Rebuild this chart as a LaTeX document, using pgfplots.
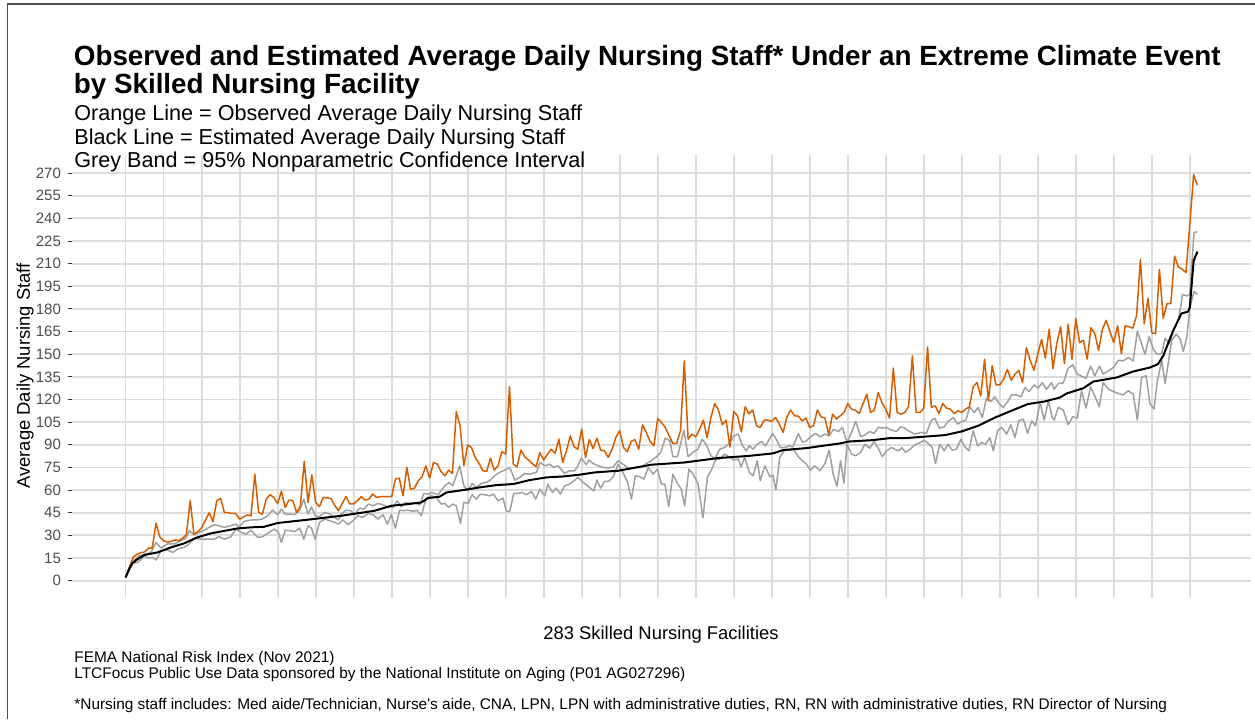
\documentclass[border=0pt]{standalone}
\usepackage{fontspec}
\setmainfont{Liberation Sans}
\usepackage{pgfplots}
\pgfplotsset{compat=1.18}
\usepackage{pgfplotstable}
\definecolor{obs}{HTML}{D55E00}
\definecolor{ci}{HTML}{A0A0A0}
\definecolor{gridc}{HTML}{DCDCDC}
\definecolor{tickc}{HTML}{4D4D4D}

\pgfplotstableread[row sep=\\]{
x y\\
1 2\\ 2 9\\ 3 15.5\\ 4 17.5\\ 5 18.5\\ 6 19\\ 7 21.5\\ 8 21.5\\ 9 38\\ 10 29\\
11 26.5\\ 12 25.5\\ 13 26\\ 14 27\\ 15 26.5\\ 16 28\\ 17 30.5\\ 18 53\\ 19 30.5\\ 20 32.5\\
21 35\\ 22 40\\ 23 45\\ 24 39\\ 25 53\\ 26 54.5\\ 27 45\\ 28 45\\ 29 44.5\\ 30 44.5\\
31 40.7\\ 32 42.2\\ 33 43.5\\ 34 43\\ 35 70.6\\ 36 45.3\\ 37 44\\ 38 54\\ 39 57\\ 40 55\\
41 51\\ 42 59.2\\ 43 48.5\\ 44 53.4\\ 45 53\\ 46 45.2\\ 47 49.6\\ 48 79\\ 49 51.9\\ 50 70.1\\
51 51.9\\ 52 49\\ 53 55.2\\ 54 54.8\\ 55 54.5\\ 56 50\\ 57 46.3\\ 58 51.2\\ 59 55.6\\ 60 50.8\\
61 50.8\\ 62 53\\ 63 55.6\\ 64 53.4\\ 65 54\\ 66 57.3\\ 67 55.2\\ 68 55.6\\ 69 55.6\\ 70 55.6\\
71 55.6\\ 72 67.3\\ 73 67.9\\ 74 56.3\\ 75 75\\ 76 60.6\\ 77 61.3\\ 78 66.2\\ 79 68.8\\ 80 76\\
81 68\\ 82 78.3\\ 83 77.2\\ 84 72.3\\ 85 69.5\\ 86 73.2\\ 87 71\\ 88 112\\ 89 102.6\\ 90 76.1\\
91 89.9\\ 92 88.2\\ 93 81.6\\ 94 77.6\\ 95 72.8\\ 96 72.3\\ 97 81.2\\ 98 73.2\\ 99 76.1\\ 100 85.5\\
101 83.8\\ 102 128.4\\ 103 77.2\\ 104 75.4\\ 105 86.5\\ 106 82.1\\ 107 79.9\\ 108 77.6\\ 109 75.4\\ 110 84.9\\
111 79.9\\ 112 83.8\\ 113 87.1\\ 114 84.3\\ 115 93.7\\ 116 78.3\\ 117 86\\ 118 95.9\\ 119 88.6\\ 120 87.1\\
121 100.4\\ 122 81.6\\ 123 93.5\\ 124 87.5\\ 125 94.4\\ 126 86.5\\ 127 86\\ 128 81.6\\ 129 87.1\\ 130 95\\
131 99.3\\ 132 88.2\\ 133 85.5\\ 134 92.2\\ 135 93.5\\ 136 87.1\\ 137 103.2\\ 138 98.2\\ 139 92.2\\ 140 89.3\\
141 107.4\\ 142 104.8\\ 143 101.5\\ 144 96\\ 145 90.9\\ 146 90.9\\ 147 99.3\\ 148 145.6\\ 149 93.7\\ 150 97.1\\
151 95.3\\ 152 100\\ 153 106.3\\ 154 94.8\\ 155 108.1\\ 156 117.3\\ 157 112.9\\ 158 103.2\\ 159 106.3\\ 160 88.6\\
161 112.1\\ 162 109.2\\ 163 98.5\\ 164 115.2\\ 165 110.5\\ 166 113\\ 167 102.6\\ 168 101.5\\ 169 106.3\\ 170 106.3\\
171 105.5\\ 172 108.1\\ 173 103.7\\ 174 98.2\\ 175 108.5\\ 176 113\\ 177 109.2\\ 178 109\\ 179 105.9\\ 180 107.7\\
181 101.5\\ 182 102.6\\ 183 113\\ 184 108.5\\ 185 107.7\\ 186 96.6\\ 187 110.3\\ 188 107\\ 189 109.2\\ 190 111.4\\
191 117.3\\ 192 113.6\\ 193 113\\ 194 110.7\\ 195 117\\ 196 123.5\\ 197 111.4\\ 198 113\\ 199 124.6\\ 200 117.9\\
201 113.6\\ 202 107.7\\ 203 140.8\\ 204 111.4\\ 205 110.3\\ 206 111.4\\ 207 115.2\\ 208 148.9\\ 209 111.4\\ 210 111.4\\
211 114.3\\ 212 154.8\\ 213 114.7\\ 214 115.8\\ 215 110.7\\ 216 117.4\\ 217 114.3\\ 218 113.6\\ 219 110.7\\ 220 112.5\\
221 111.4\\ 222 113.6\\ 223 115.2\\ 224 128.4\\ 225 131.3\\ 226 122.4\\ 227 146.6\\ 228 119.1\\ 229 142.5\\ 230 129.7\\
231 129.7\\ 232 133.4\\ 233 140\\ 234 132.8\\ 235 136.8\\ 236 139.4\\ 237 131.3\\ 238 154.4\\ 239 146\\ 240 139.4\\
241 150\\ 242 159.9\\ 243 147.4\\ 244 166.6\\ 245 140.5\\ 246 157\\ 247 168.2\\ 248 143.8\\ 249 169.9\\ 250 146.7\\
251 173.6\\ 252 157.7\\ 253 159.3\\ 254 146.7\\ 255 167.6\\ 256 163.6\\ 257 152.6\\ 258 166.6\\ 259 172.5\\ 260 165\\
261 157.7\\ 262 168.8\\ 263 150.4\\ 264 168.8\\ 265 168.2\\ 266 167.3\\ 267 175.5\\ 268 212.9\\ 269 170.3\\ 270 187\\
271 164.3\\ 272 163.6\\ 273 206.3\\ 274 173.8\\ 275 183.5\\ 276 183.5\\ 277 215\\ 278 207.7\\ 279 206.3\\ 280 204.1\\
281 236\\ 282 269\\ 283 262\\
}\obstable

\begin{document}
\begin{tikzpicture}[x=0.5pt,y=0.5pt]
\useasboundingbox (0,0) rectangle (1255,719);
\fill[white] (0,0) rectangle (1255,719);
\draw[color=black!70, line width=0.8pt] (7.5,0) -- (7.5,715) -- (1255,715);
\begin{axis}[
  at={(36pt,60.5pt)}, anchor=south west,
  scale only axis, width=589.5pt, height=221.5pt,
  xmin=-13.1, xmax=297.1, ymin=-11.5, ymax=282,
  xtick={1,11,21,31,41,51,61,71,81,91,101,111,121,131,141,151,161,171,181,191,201,211,221,231,241,251,261,271,281},
  xticklabels={},
  ytick={0,15,30,45,60,75,90,105,120,135,150,165,180,195,210,225,240,255,270},
  tick pos=left,
  grid=major, major grid style={draw=gridc, line width=0.9pt},
  axis line style={draw=none},
  tick align=outside, major tick length=2pt,
  xtick style={draw=none},
  ytick style={draw=black!80, line width=0.5pt},
  yticklabel style={font=\fontsize{7.5pt}{9pt}\selectfont, text=tickc},
  /pgf/number format/assume math mode=true,
  no markers,
  every axis plot/.append style={line join=round},
]
\addplot[ci, line width=0.75pt] coordinates {
(1,2)(2.8,12.8)(4.6,16.5)(5.9,17.2)(7.7,18.7)(9,25.3)(10.3,21.6)(12,24.3)(13.8,24.3)(15.6,26.5)(16.9,28.2)(17.8,33.1)(18.9,30.4)(20.4,32)(21.7,33.5)(23,35.3)(24.3,37)(25.6,36.4)(27,35.3)(28.7,36.4)(30,37.5)(30.9,35.5)(32.2,39.3)(34,40.2)(35.7,40.2)(37,40.9)(38.4,43)(39.7,46.8)(41,43.7)(42,47.4)(43,44.1)(44.1,44.1)(45.5,43.7)(46.8,46.7)(47.9,54)(49,44.1)(49.9,48.9)(50.9,43)(52,42.4)(53.4,45.2)(54.7,44.1)(56,41.9)(57,40.2)(57.7,44.1)(59,46.7)(60.2,46.3)(61.3,44.1)(62.6,48)(63.7,47.4)(64.9,50.7)(66.1,49.6)(67.4,51.2)(68.7,50.2)(70,48.9)(71.3,48.5)(72.5,52.9)(73.5,48.9)(74.6,51.7)(75.7,51.2)(77,51.7)(78.4,50.2)(79.5,57.8)(80.6,57.3)(81.6,58.4)(83.2,56.9)(85,62.9)(86.1,65)(87.1,62.9)(88.9,76.1)(90,62.9)(91.1,59.5)(92.2,64.4)(93.3,61.7)(94.6,64.4)(95.7,65)(96.8,66.2)(98.1,69.5)(99.4,71.7)(100.7,73.2)(102.1,75)(103.4,66.6)(104.7,68.4)(106,71)(107.3,70.6)(109.1,71.7)(110,78.3)(111.3,76.1)(112.6,77.2)(113.6,75)(114.8,76.1)(116.5,71)(117.8,72.8)(119.2,72.8)(120,76.1)(120.9,81.2)(122.2,76.8)(122.9,79.9)(124,77.6)(125.3,76.1)(126.6,75)(127.9,74.6)(129.3,75.4)(130.6,79.4)(131.6,77.6)(133,75)(134.2,74.5)(135.4,75)(136.7,75)(138,77.6)(139.3,79.4)(140.7,82.1)(141.8,85)(143,94.4)(144.2,92.6)(145,82.1)(146.2,82.1)(147.9,99.7)(149,82.1)(150.3,85)(151.6,87.1)(152.7,93.7)(153.8,90)(155,82.8)(156,80.6)(157.3,87.1)(158.6,88.2)(160,91.5)(161.1,95.9)(162.2,97.1)(163.2,90)(164.3,86)(165.1,89.3)(166.1,87.1)(167.2,90.4)(168.3,92.2)(169.4,89.3)(171.2,97.5)(172.2,93.7)(173.3,88.2)(174.4,88.2)(175.6,89.3)(176.6,88.6)(178,97.5)(179.1,91.5)(180.1,92.6)(181.5,95.9)(182.6,97.5)(183.7,95.3)(185,97.1)(186.1,95.9)(187.3,100.4)(188.5,98.8)(189.6,101.5)(190.8,91.5)(192,98.2)(193.1,105.5)(194.4,95.3)(195.5,96.6)(196.8,98.8)(197.9,97.5)(199,101.5)(200.1,101.1)(201.2,101.5)(202.5,99.7)(203.8,98.8)(204.9,101.9)(206,101.1)(206.9,99.3)(208.7,97.1)(210.4,98.2)(211.7,97.5)(212.9,105.9)(213.9,107.6)(215.1,101)(216.4,101.9)(217.4,105.5)(218.8,108.1)(219.9,103.7)(221,105.5)(222.1,106.3)(223.1,115.2)(224.3,111.4)(225.3,114.7)(226.4,108.1)(227.5,120.9)(228.7,118.7)(229.7,121.8)(230.8,117.4)(231.9,114.7)(233.1,118.7)(234.1,123.1)(235.4,123.1)(236.6,121.8)(237.6,127.9)(238.7,125.3)(240.1,129.7)(241.1,127.5)(242.2,131.2)(243.3,126.8)(244.6,131.2)(245.3,126.8)(246.4,130.6)(247.7,131)(249,140.7)(250.2,143)(251.4,136.8)(252.5,135.5)(253.7,134.1)(254.9,142.2)(256,135.6)(257.2,142.2)(258.2,136.8)(259.6,139)(260.9,141.2)(262.2,146)(263.5,145.6)(264.8,147.8)(266.1,145.6)(267.2,165.4)(268.3,157)(269.2,150)(270.3,161.5)(271.4,153.3)(272.4,150)(273.6,150.4)(274.5,160.6)(275.6,157)(276.7,165.9)(278,172.5)(279.1,189.7)(280.2,188.6)(281,189.7)(282.1,230.5)(283,231.2)
};
\addplot[ci, line width=0.75pt] coordinates {
(1,2)(2.8,11.5)(4.2,12.1)(5.9,15.9)(7.2,15)(8.1,15.4)(9,13.7)(10.3,19.9)(12,20.3)(13.4,18.7)(14.7,20.9)(16.4,22.1)(17.5,23.8)(19.1,28.2)(20.8,27.5)(22.6,27.5)(24.3,27.5)(25.6,29.1)(27,27.5)(28.7,29.1)(30,34.2)(31.4,32)(32.7,30.9)(34,33.5)(35.7,28.7)(37,29.1)(38.4,31.3)(40.1,34.2)(41.2,32)(42,25.3)(43,33.5)(44.1,33.1)(45.5,32.6)(46.8,34.8)(47.9,27.4)(49,36.4)(49.9,34.8)(50.9,27.4)(52,38.6)(53.4,40.8)(54.7,39.7)(56,38.6)(57,37.5)(58.2,40.2)(59.5,37.1)(60.8,39.7)(62.1,43)(63.4,41.9)(64.8,44.5)(66.1,43.7)(67.4,40.8)(68.7,43.7)(69.9,37.5)(70.9,43.7)(72,34.8)(73.1,46.7)(74.2,46.3)(75.3,46.7)(76.6,45.9)(77.7,46.7)(78.8,43)(80.1,54.7)(81.4,56.3)(82.7,55.2)(84.1,50.7)(85,51.2)(86,48.5)(87.1,50.7)(88,49.5)(89.1,38)(90,51.9)(91.1,51.2)(92.2,56.9)(93.3,54)(94.3,57.3)(95.5,56.9)(96.8,56.2)(97.8,57.3)(99,52.9)(100.3,54.7)(101.2,45.9)(102.1,45.9)(103.1,57.8)(104.2,57.8)(105.4,58.4)(106.4,56.9)(107.8,59.1)(108.9,54)(110,60.6)(111.3,56.2)(112.1,63.9)(113.3,58.4)(114.3,61.3)(115.4,57.3)(116.5,62.8)(117.8,63.9)(119.2,66.6)(120,68.4)(121,66)(122,63.9)(123.1,61.7)(124.2,59.5)(125,66.6)(126,61.3)(127,65.7)(128.1,65.7)(129.3,68.8)(130.6,77.2)(131.6,72.8)(133,65.7)(134.1,54)(135.1,69.5)(136.3,68.8)(137.4,67.3)(138.5,75)(139.8,70.6)(140.9,73.9)(142,63.9)(142.9,63.9)(143.9,49)(145,70.6)(146.2,64.4)(147.2,60.6)(148.1,49.6)(149.2,73.9)(150.3,70.6)(151.6,64.4)(152.9,41.5)(154.1,68.8)(155.1,73.2)(156.2,79.9)(157.3,80.6)(158.6,83.8)(160,81.6)(161.1,79.9)(162.2,80.6)(162.9,75.4)(163.9,81.6)(165.1,71.7)(166.1,69.5)(167.2,79.4)(168,66.2)(169.2,76.1)(170.5,68.8)(171.3,70)(172.1,60.1)(173.1,81.6)(174.4,86.5)(175.6,86.5)(176.6,87.1)(178,82.1)(179.1,79.4)(180.1,77.2)(181.2,73.2)(182.3,76.1)(183.7,72.8)(185,77.6)(186.1,86.5)(187.2,70.2)(188.2,62.5)(189.1,79.4)(190,64.6)(190.8,90.4)(192,83.8)(193.1,82.8)(194.4,84.9)(195.5,90.4)(196.8,87.8)(197.9,92.2)(199,87.8)(200.1,82.1)(201.2,86)(202.5,88.2)(203.4,87)(204.5,86)(205.2,88.2)(206.2,85)(207.4,87.1)(208.7,90)(210,91.5)(211.1,93)(212.2,90.9)(213.2,88.2)(214.1,77.6)(215.2,90.4)(216.4,86)(217.4,90.4)(218.5,86.5)(219.6,87.1)(220.8,93.7)(221.8,88.6)(222.9,86)(224,99.3)(225.2,89.3)(226.2,91.5)(227.3,90.4)(228.4,94.8)(229.3,86)(230.4,99.3)(231.5,101.5)(232.8,97.1)(233.9,103.2)(235,94.8)(236,105.9)(237.2,107)(238.3,97.5)(239.4,105.9)(240.4,102.6)(241.6,118.1)(242.7,106.4)(243.8,119.2)(244.8,108.1)(245.3,106.4)(246.4,114.8)(247.7,113)(249,103.3)(250.2,108.6)(251.4,107.7)(252.5,125.8)(253.7,114.3)(254.9,128.4)(256,122.4)(257.2,115.2)(258.2,131.3)(259.6,126.8)(260.9,125.3)(262.2,124)(263.5,123.1)(264.8,125.8)(266.1,123.6)(267.2,106.4)(268.3,134.6)(269.5,135.7)(270.5,117.4)(271.6,113.7)(272.4,131.3)(273.6,146)(274.5,130.6)(275.3,143.4)(276.2,158.9)(277.4,163.3)(278.5,160)(279.3,151.8)(280.2,161.1)(281,180.9)(282.1,191.5)(283,189.7)
};
\addplot[obs, line width=0.75pt] table[x=x, y=y] {\obstable};
\addplot[black, line width=1pt] coordinates {
(1,2.2)(2,8)(2.8,11.5)(4,14)(5.9,17)(9.4,18.7)(12.9,22)(16.4,24.7)(19.9,28.7)(23.4,31.3)(27,33)(30.5,34.6)(34,35.3)(37.5,35.7)(41,38.2)(49,40.4)(57.8,43)(66.5,46.3)(70.9,49.6)(75.3,50.7)(78.8,51.8)(80.6,54.7)(83.6,55.6)(85.4,58.4)(89.8,60)(94.2,61.8)(98.6,63.3)(103,64)(107.3,66.6)(111.7,68.4)(116,69)(120.5,70.2)(124.4,71.7)(130.6,72.8)(139.3,76.8)(148.1,78.3)(156.9,81.2)(165.2,82.7)(171.3,84.3)(174,86.5)(180.1,87.8)(188.9,90.9)(191.5,92.2)(197.6,93.1)(202,94.4)(206,94.4)(216.5,96.4)(220.9,98.8)(225.3,102.6)(229.7,108)(234,112.5)(238.4,117)(242.8,118.7)(246.8,121.3)(248.6,124)(253,127.5)(255.6,131.9)(261.8,134.6)(266,138.5)(270.5,141.2)(272.6,143.4)(274,148.9)(276.6,165.5)(278.8,177)(280.5,178.2)(281,181)(282,211.8)(283,218)
};
\end{axis}
\node[anchor=base west, inner sep=0pt, font=\fontsize{13.9pt}{16pt}\bfseries\selectfont] at (73.5,719-66) {Observed and Estimated Average Daily Nursing Staff* Under an Extreme Climate Event};
\node[anchor=base west, inner sep=0pt, font=\fontsize{13.9pt}{16pt}\bfseries\selectfont] at (73.5,719-94) {by Skilled Nursing Facility};
\node[anchor=base west, inner sep=0pt, font=\fontsize{10.8pt}{13pt}\selectfont] at (74,719-121) {Orange Line = Observed Average Daily Nursing Staff};
\node[anchor=base west, inner sep=0pt, font=\fontsize{10.8pt}{13pt}\selectfont] at (74,719-145) {Black Line = Estimated Average Daily Nursing Staff};
\node[anchor=base west, inner sep=0pt, font=\fontsize{10.8pt}{13pt}\selectfont] at (74,719-168) {Grey Band = 95\% Nonparametric Confidence Interval};
\node[rotate=90, anchor=center, inner sep=0pt, font=\fontsize{9.2pt}{11pt}\selectfont] at (25,719-376) {Average Daily Nursing Staff};
\node[anchor=base, inner sep=0pt, font=\fontsize{9.2pt}{11pt}\selectfont] at (661,719-639) {283 Skilled Nursing Facilities};
\node[anchor=base west, inner sep=0pt, font=\fontsize{7.7pt}{9pt}\selectfont] at (74,719-662) {FEMA National Risk Index (Nov 2021)};
\node[anchor=base west, inner sep=0pt, font=\fontsize{7.7pt}{9pt}\selectfont] at (74,719-678) {LTCFocus Public Use Data sponsored by the National Institute on Aging (P01 AG027296)};
\node[anchor=base west, inner sep=0pt, font=\fontsize{7.7pt}{9pt}\selectfont] at (74,719-709) {*Nursing staff includes: Med aide/Technician, Nurse\textquotesingle s aide, CNA, LPN, LPN with administrative duties, RN, RN with administrative duties, RN Director of Nursing};
\end{tikzpicture}
\end{document}
